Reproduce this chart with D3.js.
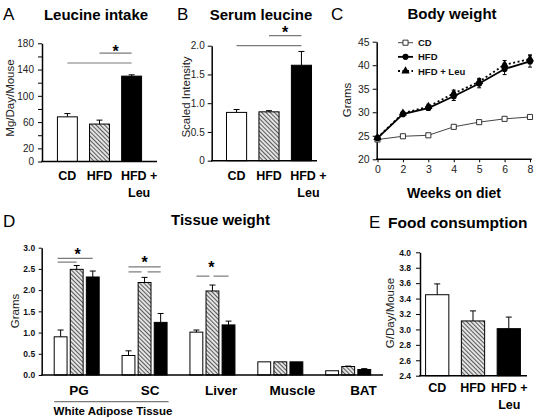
<!DOCTYPE html>
<html><head><meta charset="utf-8">
<script src="https://cdn.jsdelivr.net/npm/d3@7"></script>
<style>
body{margin:0;background:#fff}
svg{display:block}
text{font-family:"Liberation Sans",Arial,Helvetica,sans-serif}
</style>
</head><body>
<svg id="c" width="537" height="419"></svg>
<script>
// ---------- data ----------
const groups3 = ["CD", "HFD", "HFD + Leu"];

const leucineIntake = [68, 57, 130];
const leucineIntakeErr = [5, 6, 2];
const leucineTicks = [0, 20, 60, 100, 140, 180];
const leucineMinorTicks = [0, 20, 40, 60, 80, 100, 120, 140, 160, 180];

const serumLeucine = [0.84, 0.85, 1.66];
const serumLeucineErr = [0.05, 0.02, 0.24];
const serumTicks = [0, 0.5, 1.0, 1.5, 2.0];

const weeks = ["0", "2", "3", "4", "5", "6", "8"];
const bwCD = [24.2, 24.9, 25.1, 26.9, 27.9, 28.6, 29.0];
const bwHFD = [24.5, 29.6, 30.9, 33.4, 36.1, 39.2, 40.8];
const bwHFDErr = [0.3, 0.4, 0.5, 0.9, 0.9, 1.2, 1.2];
const bwLeu = [24.6, 29.8, 31.2, 34.0, 36.5, 40.1, 41.3];
const bwLeuErr = [0.3, 0.4, 0.5, 0.7, 0.7, 0.9, 0.9];
const bwTicks = [20, 25, 30, 35, 40, 45];
const bwSeries = ["CD", "HFD", "HFD + Leu"];

const tissues = ["PG", "SC", "Liver", "Muscle", "BAT"];
const tissueCD = [0.90, 0.46, 1.01, 0.31, 0.10];
const tissueCDErr = [0.16, 0.11, 0.05, 0, 0];
const tissueHFD = [2.49, 2.18, 1.98, 0.31, 0.20];
const tissueHFDErr = [0.09, 0.12, 0.14, 0, 0.01];
const tissueLeu = [2.31, 1.24, 1.18, 0.31, 0.13];
const tissueLeuErr = [0.14, 0.21, 0.09, 0, 0.02];
const tissueTicks = [0, 0.5, 1.0, 1.5, 2.0, 2.5, 3.0];

const foodCons = [3.45, 3.11, 3.01];
const foodConsErr = [0.14, 0.13, 0.15];
const foodTicks = [2.4, 2.6, 2.8, 3.0, 3.2, 3.4, 3.6, 3.8, 4.0];

// ---------- setup ----------
const svg = d3.select("#c");
const defs = svg.append("defs");
const pat = defs.append("pattern").attr("id", "hatch")
  .attr("patternUnits", "userSpaceOnUse").attr("width", 3).attr("height", 3)
  .attr("patternTransform", "rotate(-45)");
pat.append("rect").attr("width", 3).attr("height", 3).attr("fill", "#e6e6e6");
pat.append("line").attr("x1", 0.5).attr("y1", 0).attr("x2", 0.5).attr("y2", 3)
  .attr("stroke", "#5a5a5a").attr("stroke-width", 1.1);
const fills = ["#fff", "url(#hatch)", "#000"];
const sigColor = "#7a7a7a";

function label(x, y, txt, size, weight, anchor, color) {
  return svg.append("text").attr("x", x).attr("y", y).text(txt)
    .attr("font-size", size).attr("font-weight", weight || "normal")
    .attr("text-anchor", anchor || "middle").attr("fill", color || "#000");
}
function vlabel(x, y, txt, size) {
  return svg.append("text").attr("transform", `translate(${x},${y}) rotate(-90)`)
    .attr("text-anchor", "middle").attr("dominant-baseline", "central")
    .attr("font-size", size).attr("fill", "#222").text(txt);
}
function errBar(g, cx, y0, y1, cap) {
  g.append("line").attr("x1", cx).attr("x2", cx).attr("y1", y0).attr("y2", y1)
    .attr("stroke", "#000").attr("stroke-width", 1);
  g.append("line").attr("x1", cx - cap / 2).attr("x2", cx + cap / 2).attr("y1", y1).attr("y2", y1)
    .attr("stroke", "#000").attr("stroke-width", 1);
}
function sigLine(x1, x2, y) {
  svg.append("line").attr("x1", x1).attr("x2", x2).attr("y1", y).attr("y2", y)
    .attr("stroke", sigColor).attr("stroke-width", 1.2);
}
function star(x, y) {
  label(x, y, "*", 16, "bold");
}
function styleAxis(ax, fs, weight, color) {
  ax.select(".domain").attr("stroke", "#000").attr("stroke-width", 1.5);
  ax.selectAll(".tick line").attr("stroke", "#000");
  ax.selectAll(".tick text").attr("font-size", fs).attr("font-weight", weight)
    .attr("fill", color).attr("font-family", '"Liberation Sans",Arial,sans-serif');
}

// ---------- bar panels (A, B, E) ----------
function barPanel(cfg) {
  const g = svg.append("g");
  const x = d3.scaleBand().domain(groups3).range(cfg.xr).paddingInner(cfg.pi).paddingOuter(cfg.po);
  const y = d3.scaleLinear().domain(cfg.yd).range(cfg.yr);
  g.selectAll("rect").data(cfg.vals).join("rect")
    .attr("x", (d, i) => x(groups3[i])).attr("width", x.bandwidth())
    .attr("y", d => y(d)).attr("height", d => y(cfg.yd[0]) - y(d))
    .attr("fill", (d, i) => fills[i]).attr("stroke", "#000").attr("stroke-width", 1);
  cfg.vals.forEach((v, i) => {
    if (cfg.errs[i] > 0) errBar(g, x(groups3[i]) + x.bandwidth() / 2, y(v), y(v + cfg.errs[i]), 6);
  });
  const axis = d3.axisLeft(y).tickValues(cfg.ticks).tickSize(4).tickSizeOuter(0).tickPadding(cfg.tp)
    .tickFormat(d => cfg.labelTicks.includes(d) ? cfg.fmt(d) : "");
  const ax = g.append("g").attr("transform", `translate(${cfg.ax},0)`).call(axis);
  styleAxis(ax, cfg.tfs, cfg.tfw, cfg.tcol);
  g.append("line").attr("x1", cfg.ax - 0.75).attr("x2", cfg.axEnd)
    .attr("y1", y(cfg.yd[0])).attr("y2", y(cfg.yd[0])).attr("stroke", "#000").attr("stroke-width", 1.5);
  groups3.forEach((c, i) => {
    const cx = x(c) + x.bandwidth() / 2;
    const lines = c === "HFD + Leu" ? ["HFD +", "Leu"] : [c];
    lines.forEach((t, j) => label(cx + (lines.length > 1 ? cfg.shift : 0), cfg.labY + j * 17, t, 12.5, "bold"));
  });
  return { x, y, cx: c => x(c) + x.bandwidth() / 2 };
}

// Panel A
label(3, 20, "A", 17, "normal", "start");
label(96, 20, "Leucine intake", 15, "bold");
vlabel(10, 98, "Mg/Day/Mouse", 11.5);
const pA = barPanel({
  xr: [51, 148], pi: 0.38, po: 0.2, yd: [0, 180], yr: [161.5, 43.3],
  vals: leucineIntake, errs: leucineIntakeErr, ticks: leucineMinorTicks, labelTicks: leucineTicks,
  fmt: d3.format("d"), ax: 42, axEnd: 157, tp: 4, tfs: 10, tfw: "normal", tcol: "#222", labY: 180, shift: 7.5
});
sigLine(pA.cx("CD"), pA.cx("HFD + Leu"), pA.y(150));
sigLine(pA.cx("HFD"), pA.cx("HFD + Leu"), pA.y(165));
star((pA.cx("HFD") + pA.cx("HFD + Leu")) / 2, 57);

// Panel B
label(177, 20, "B", 17, "normal", "start");
label(261, 20, "Serum leucine", 15, "bold");
vlabel(186, 97, "Scaled Intensity", 11.5);
const pB = barPanel({
  xr: [220, 318], pi: 0.38, po: 0.2, yd: [0, 2], yr: [160.7, 45.7],
  vals: serumLeucine, errs: serumLeucineErr, ticks: serumTicks, labelTicks: serumTicks,
  fmt: d => d === 0 ? "0" : d3.format(".1f")(d), ax: 211.7, axEnd: 317, tp: 3, tfs: 10, tfw: "normal", tcol: "#222", labY: 180, shift: 7
});
sigLine(pB.cx("CD"), pB.cx("HFD + Leu"), pB.y(2.0));
sigLine(pB.cx("HFD"), pB.cx("HFD + Leu"), pB.y(2.175));
star((pB.cx("HFD") + pB.cx("HFD + Leu")) / 2, 38);

// Panel E
label(369, 228, "E", 17, "normal", "start");
label(388, 228, "Food consumption", 15.5, "bold", "start");
vlabel(390, 313, "G/Day/Mouse", 11.5);
barPanel({
  xr: [422, 524], pi: 0.35, po: 0.1, yd: [2.4, 4.0], yr: [375.7, 252.3],
  vals: foodCons, errs: foodConsErr, ticks: foodTicks, labelTicks: foodTicks,
  fmt: d3.format(".1f"), ax: 420, axEnd: 527, tp: 5, tfs: 8.5, tfw: "bold", tcol: "#111", labY: 392, shift: 0.5
});

// ---------- Panel C: line chart ----------
label(331, 20, "C", 17, "normal", "start");
label(452, 19, "Body weight", 15, "bold");
vlabel(347, 100, "Grams", 11.5);
label(454, 198, "Weeks on diet", 14, "bold");
{
  const x = d3.scalePoint().domain(weeks).range([377.5, 530]);
  const y = d3.scaleLinear().domain([20, 45]).range([159.3, 41.7]);
  const axY = svg.append("g").attr("transform", "translate(376.7,0)")
    .call(d3.axisLeft(y).tickValues(bwTicks).tickSize(4).tickSizeOuter(0).tickPadding(3));
  styleAxis(axY, 10.5, "normal", "#222");
  const axX = svg.append("g").attr("transform", "translate(0,159.3)")
    .call(d3.axisBottom(x).tickSize(3).tickSizeOuter(0).tickPadding(3));
  styleAxis(axX, 10.5, "normal", "#222");
  axX.select(".domain").remove();
  svg.append("line").attr("x1", 376).attr("x2", 531.7).attr("y1", 159.3).attr("y2", 159.3)
    .attr("stroke", "#000").attr("stroke-width", 1.5);

  const line = d3.line().x((d, i) => x(weeks[i])).y(d => y(d));
  const g = svg.append("g");
  g.append("path").attr("d", line(bwCD)).attr("fill", "none").attr("stroke", "#444").attr("stroke-width", 1);
  [[bwHFD, bwHFDErr], [bwLeu, bwLeuErr]].forEach(([vals, errs]) => {
    vals.forEach((v, i) => {
      const cx = x(weeks[i]);
      g.append("line").attr("x1", cx).attr("x2", cx).attr("y1", y(v - errs[i])).attr("y2", y(v + errs[i]))
        .attr("stroke", "#000").attr("stroke-width", 1);
      [v - errs[i], v + errs[i]].forEach(e => g.append("line").attr("x1", cx - 2).attr("x2", cx + 2)
        .attr("y1", y(e)).attr("y2", y(e)).attr("stroke", "#000").attr("stroke-width", 1));
    });
  });
  g.append("path").attr("d", line(bwHFD)).attr("fill", "none").attr("stroke", "#000").attr("stroke-width", 1.8);
  g.append("path").attr("d", line(bwLeu)).attr("fill", "none").attr("stroke", "#000").attr("stroke-width", 1.8)
    .attr("stroke-dasharray", "2,2.5");
  const sq = d3.symbol().type(d3.symbolSquare).size(26);
  const ci = d3.symbol().type(d3.symbolCircle).size(30);
  const tr = d3.symbol().type(d3.symbolTriangle).size(30);
  g.selectAll(".cd").data(bwCD).join("path").attr("d", sq)
    .attr("transform", (d, i) => `translate(${x(weeks[i])},${y(d)})`).attr("fill", "#fff").attr("stroke", "#333").attr("stroke-width", 1);
  g.selectAll(".hfd").data(bwHFD).join("path").attr("class", "hfd").attr("d", ci)
    .attr("transform", (d, i) => `translate(${x(weeks[i])},${y(d)})`).attr("fill", "#000");
  g.selectAll(".leu").data(bwLeu).join("path").attr("class", "leu").attr("d", tr)
    .attr("transform", (d, i) => `translate(${x(weeks[i])},${y(d)})`).attr("fill", "#000");

  const lg = svg.append("g");
  const ly = d3.scalePoint().domain(bwSeries).range([42.7, 71]);
  const styles = [
    { stroke: "#444", w: 1, dash: null, sym: sq, fill: "#fff", sstroke: "#333" },
    { stroke: "#000", w: 1.8, dash: null, sym: ci, fill: "#000", sstroke: "none" },
    { stroke: "#000", w: 1.8, dash: "2,2.5", sym: tr, fill: "#000", sstroke: "none" }
  ];
  bwSeries.forEach((s, i) => {
    const yy = ly(s), st = styles[i];
    lg.append("line").attr("x1", 398).attr("x2", 413).attr("y1", yy).attr("y2", yy)
      .attr("stroke", st.stroke).attr("stroke-width", st.w).attr("stroke-dasharray", st.dash);
    lg.append("path").attr("d", st.sym).attr("transform", `translate(405.5,${yy})`)
      .attr("fill", st.fill).attr("stroke", st.sstroke);
    lg.append("text").attr("x", 418).attr("y", yy).attr("dominant-baseline", "central")
      .attr("font-size", 9.5).attr("font-weight", "bold").attr("fill", "#111").text(s);
  });
}

// ---------- Panel D: grouped bars ----------
label(3, 227, "D", 17, "normal", "start");
label(220.5, 225, "Tissue weight", 15, "bold");
vlabel(15, 311, "Grams", 11.5);
{
  const x0 = d3.scalePoint().domain(tissues).range([76.7, 348.2]);
  const x1 = d3.scaleBand().domain(groups3).range([-22.5, 22.5]).paddingInner(0.2);
  const y = d3.scaleLinear().domain([0, 3]).range([375, 247.7]);
  const series = [[tissueCD, tissueCDErr], [tissueHFD, tissueHFDErr], [tissueLeu, tissueLeuErr]];
  const g = svg.append("g");
  series.forEach(([vals, errs], si) => {
    g.selectAll(".s" + si).data(vals).join("rect").attr("class", "s" + si)
      .attr("x", (d, i) => x0(tissues[i]) + x1(groups3[si])).attr("width", x1.bandwidth())
      .attr("y", d => y(d)).attr("height", d => y(0) - y(d))
      .attr("fill", fills[si]).attr("stroke", "#000").attr("stroke-width", 1);
    vals.forEach((v, i) => {
      if (errs[i] > 0) errBar(g, x0(tissues[i]) + x1(groups3[si]) + x1.bandwidth() / 2, y(v), y(v + errs[i]), 6);
    });
  });
  const ax = svg.append("g").attr("transform", "translate(41.7,0)")
    .call(d3.axisLeft(y).tickValues(tissueTicks).tickSize(3).tickSizeOuter(0).tickPadding(3.5).tickFormat(d3.format(".1f")));
  styleAxis(ax, 8.5, "bold", "#111");
  svg.append("line").attr("x1", 41).attr("x2", 383).attr("y1", y(0)).attr("y2", y(0))
    .attr("stroke", "#000").attr("stroke-width", 1.5);
  const xl = d3.scalePoint().domain(tissues).range([79, 363.5]);
  tissues.forEach(t => label(xl(t), 395, t, 13.5, "bold"));
  svg.append("line").attr("x1", x0("PG") - 22.5).attr("x2", x0("SC") + 24).attr("y1", 401.7).attr("y2", 401.7)
    .attr("stroke", sigColor).attr("stroke-width", 1.2);
  label(113, 415, "White Adipose Tissue", 11.5, "bold");

  const c = (t, s) => x0(t) + x1(s) + x1.bandwidth() / 2;
  sigLine(c("PG", "CD") - 3, c("PG", "HFD + Leu"), y(2.75));
  sigLine(c("PG", "CD") - 3, c("PG", "HFD"), y(2.66));
  star((c("PG", "CD") + c("PG", "HFD + Leu")) / 2 + 1, 260);
  sigLine(c("SC", "CD"), c("SC", "HFD + Leu"), y(2.55));
  sigLine(c("SC", "CD"), c("SC", "HFD") - 3, y(2.43));
  sigLine(c("SC", "HFD") + 3, c("SC", "HFD + Leu"), y(2.43));
  star(c("SC", "HFD"), 268);
  sigLine(c("Liver", "CD"), c("Liver", "HFD") - 3, y(2.33));
  sigLine(c("Liver", "HFD") + 1, c("Liver", "HFD + Leu"), y(2.33));
  star(c("Liver", "HFD") - 1, 273);
}
</script>
</body></html>
